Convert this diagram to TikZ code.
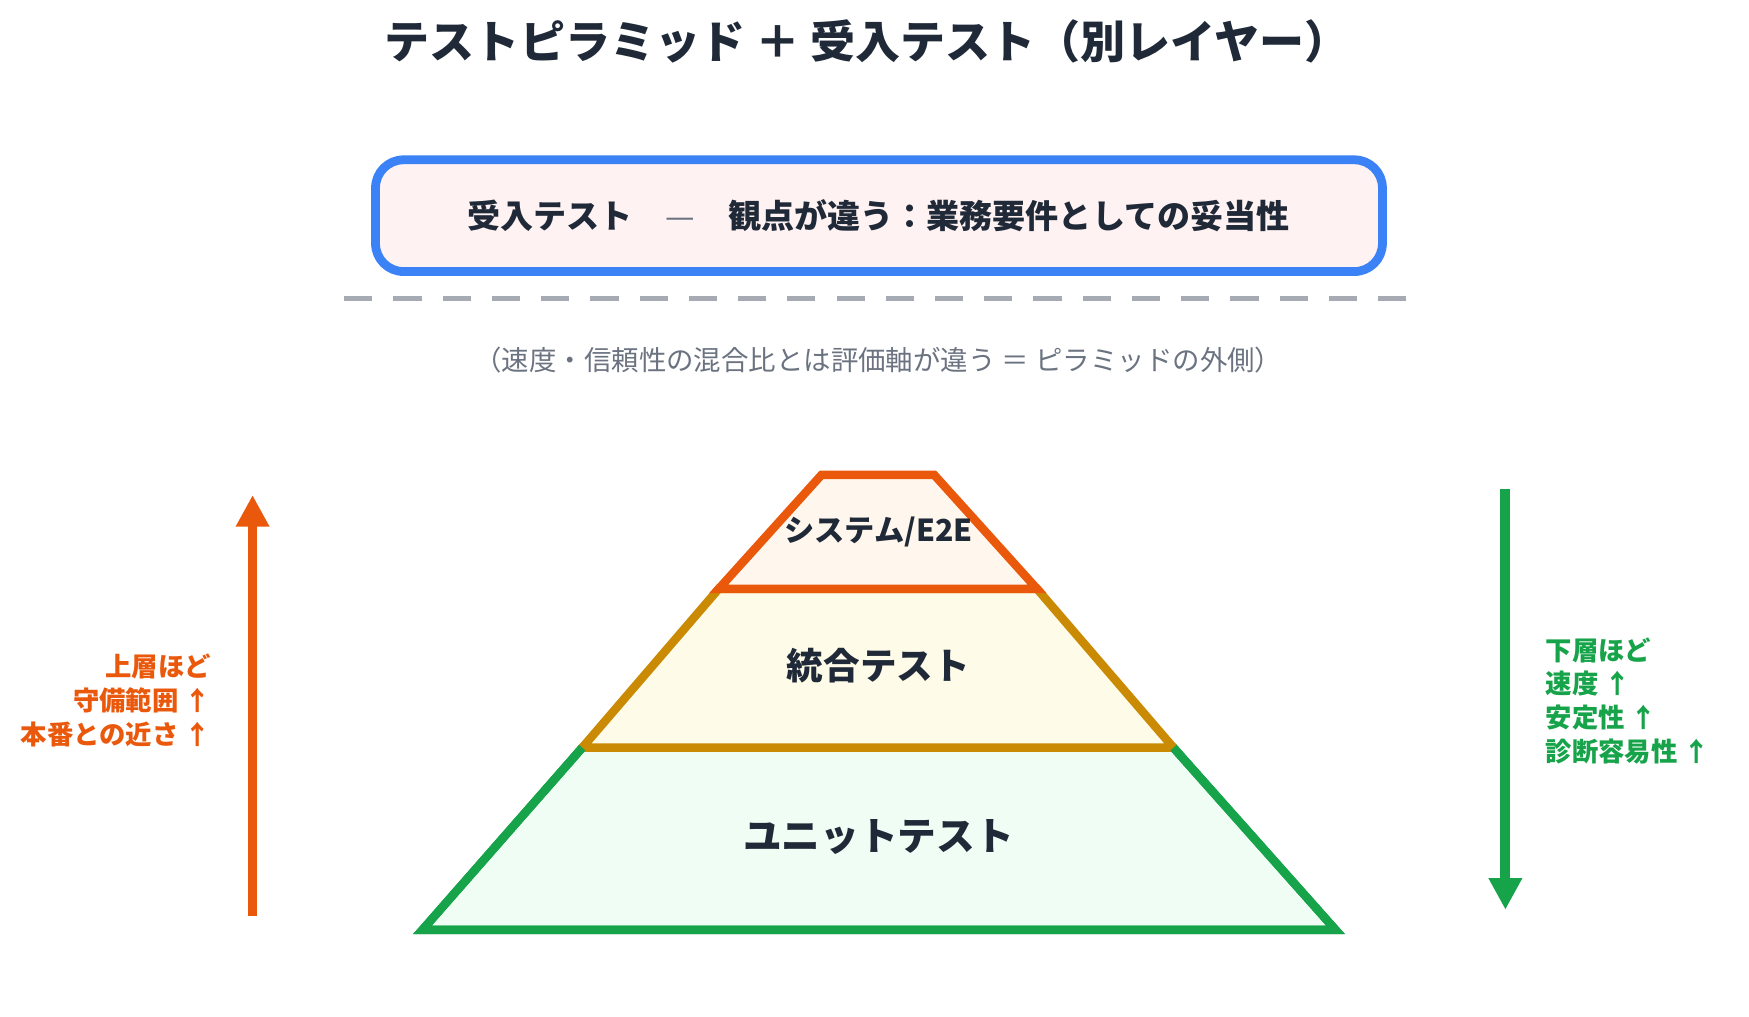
\documentclass[tikz,border=0pt]{standalone}
\usepackage{fontspec}
\setmainfont{Noto Sans CJK JP}
\usetikzlibrary{arrows.meta, positioning}
\definecolor{ink}{HTML}{1F2937}
\definecolor{grayink}{HTML}{6B7280}
\definecolor{blueline}{HTML}{3B82F6}
\definecolor{pinkfill}{HTML}{FEF2F2}
\definecolor{greenline}{HTML}{16A34A}
\definecolor{greenfill}{HTML}{F0FDF4}
\definecolor{goldline}{HTML}{CA8A04}
\definecolor{goldfill}{HTML}{FEFCE8}
\definecolor{orangeline}{HTML}{EA580C}
\definecolor{orangefill}{HTML}{FFF7ED}
\tikzset{
  layer/.style={line width=2.4pt, line join=miter},
  label/.style={font=\bfseries, text=ink},
  sidenote/.style={font=\fontsize{7.5}{9.6}\selectfont\bfseries, align=left}
}
\begin{document}
\begin{tikzpicture}[x=0.011176cm, y=-0.011176cm]
    \useasboundingbox (0,0) rectangle (1565,910);

    % Title
    \node[label, font=\fontsize{12.8}{15}\selectfont\bfseries] (title) at (776,37) {テストピラミッド ＋ 受入テスト（別レイヤー）};

    % Acceptance box
    \draw[blueline, line width=2.5pt, fill=pinkfill, rounded corners=8pt] (336,143) rectangle (1237,243);
    \node[label, font=\fontsize{9.4}{11}\selectfont\bfseries] (accept) at (786,193) {受入テスト\quad{\mdseries\color{grayink}—}\quad 観点が違う：業務要件としての妥当性};

    % Divider
    \draw[grayink!60, line width=1.4pt, dash pattern=on 8pt off 6pt] (308,267) -- (1265,267);
    \node[text=grayink, font=\fontsize{7.8}{9}\selectfont] (note) at (786,322) {（速度・信頼性の混合比とは評価軸が違う ＝ ピラミッドの外側）};

    % Pyramid layers
    \draw[layer, greenline, fill=greenfill] (378,832) -- (521,669) -- (1050,669) -- (1195,832) -- cycle;
    \draw[layer, goldline, fill=goldfill] (521,669) -- (643,527) -- (928,527) -- (1050,669) -- cycle;
    \draw[layer, orangeline, fill=orangefill] (643,527) -- (735,425) -- (836,425) -- (928,527) -- cycle;
    \draw[layer, greenline] (521,669) -- (378,832) -- (1195,832) -- (1050,669);

    \node[label, font=\fontsize{8.6}{10}\selectfont\bfseries] (system) at (786,476) {システム/E2E};
    \node[label, font=\fontsize{10.4}{12}\selectfont\bfseries] (integ) at (786,596) {統合テスト};
    \node[label, font=\fontsize{11}{13}\selectfont\bfseries] (unit) at (786,749) {ユニットテスト};

    % Side arrows
    \coordinate (upfoot) at (226,820);
    \coordinate (uphead) at (226,443);
    \draw[orangeline, line width=2.8pt, -{Triangle[length=9pt, width=9pt]}] (upfoot) -- (uphead);
    \node[sidenote, text=orangeline, align=right, anchor=east] (upnote) at (200,627) {上層ほど\\守備範囲 ↑\\本番との近さ ↑};

    \coordinate (downtop) at (1347,438);
    \coordinate (downfoot) at (1347,814);
    \draw[greenline, line width=2.8pt, -{Triangle[length=9pt, width=9pt]}] (downtop) -- (downfoot);
    \node[sidenote, text=greenline, anchor=west] (downnote) at (1372,627) {下層ほど\\速度 ↑\\安定性 ↑\\診断容易性 ↑};
\end{tikzpicture}
\end{document}
